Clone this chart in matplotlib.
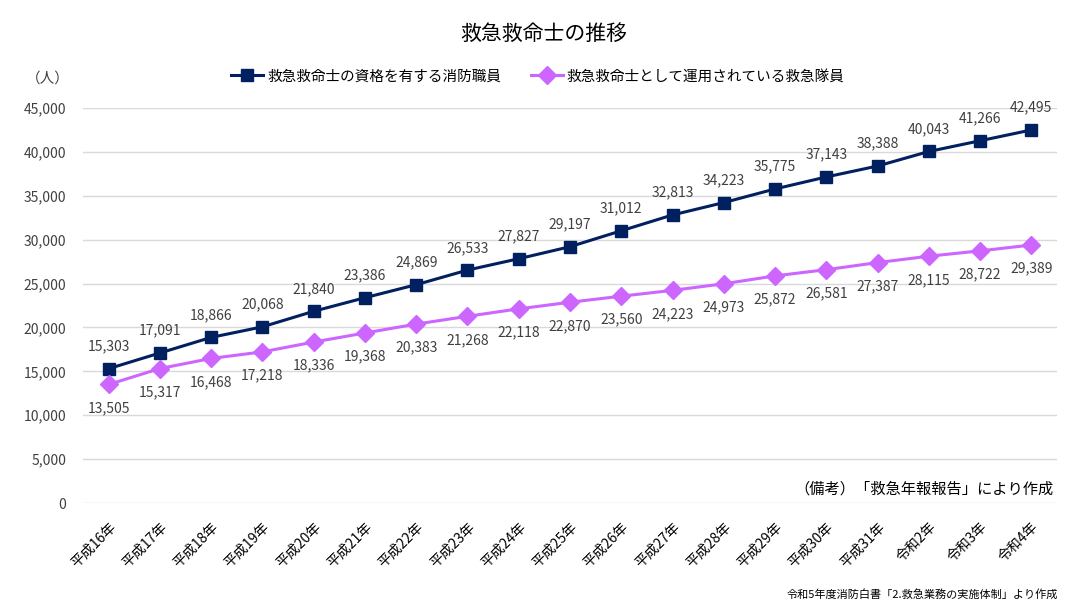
import matplotlib
matplotlib.use("Agg")
import matplotlib.pyplot as plt
from matplotlib.ticker import FuncFormatter

plt.rcParams['font.family'] = ['Noto Sans CJK JP', 'DejaVu Sans']

# years on the x axis
years = ["平成16年", "平成17年", "平成18年", "平成19年", "平成20年", "平成21年", "平成22年",
         "平成23年", "平成24年", "平成25年", "平成26年", "平成27年", "平成28年", "平成29年",
         "平成30年", "平成31年", "令和2年", "令和3年", "令和4年"]
# staff qualified as paramedics
qualified = [15303, 17091, 18866, 20068, 21840, 23386, 24869, 26533, 27827, 29197,
             31012, 32813, 34223, 35775, 37143, 38388, 40043, 41266, 42495]
# paramedics working on ambulance crews
working = [13505, 15317, 16468, 17218, 18336, 19368, 20383, 21268, 22118, 22870,
           23560, 24223, 24973, 25872, 26581, 27387, 28115, 28722, 29389]

NAVY = "#002060"
VIOLET = "#CC66FF"
TEXT = "#404040"

fig = plt.figure(figsize=(10.88, 6.10), dpi=100)
ax = fig.add_axes([0.0763, 0.1754, 0.8952, 0.6476])

x = list(range(len(years)))
ax.plot(x, qualified, color=NAVY, lw=2.2, marker="s", markersize=9,
        label="救急救命士の資格を有する消防職員", zorder=3)
ax.plot(x, working, color=VIOLET, lw=2.2, marker="D", markersize=9.5,
        label="救急救命士として運用されている救急隊員", zorder=3)

for i in x:
    ax.annotate(f"{qualified[i]:,}", (i, qualified[i]), xytext=(0, 16),
                textcoords="offset points", ha="center", va="center",
                fontsize=10, color=TEXT)
    ax.annotate(f"{working[i]:,}", (i, working[i]), xytext=(0, -17),
                textcoords="offset points", ha="center", va="center",
                fontsize=10, color=TEXT)

ax.set_xlim(-0.5, len(years) - 0.5)
ax.set_ylim(0, 45000)
ax.set_yticks(range(0, 45001, 5000))
ax.yaxis.set_major_formatter(FuncFormatter(lambda v, p: f"{int(v):,}"))
ax.set_xticks(x)
ax.set_xticklabels(years, rotation=45, ha="right", rotation_mode="anchor")
ax.tick_params(length=0, labelsize=10, colors=TEXT)
ax.tick_params(axis="x", pad=12)
ax.tick_params(axis="y", pad=12)
for lbl in ax.get_xticklabels():
    lbl.set_color("black")
ax.grid(axis="y", color="#D9D9D9", lw=1)
ax.set_axisbelow(True)
for s in ax.spines.values():
    s.set_visible(False)

fig.text(0.5, 0.945, "救急救命士の推移", ha="center", va="center", fontsize=15)
fig.text(0.044, 0.871, "（人）", ha="center", va="center", fontsize=10.5, color=TEXT)
ax.legend(loc="center", bbox_to_anchor=(0.467, 1.08), ncol=2, frameon=False,
          fontsize=10.5, handlelength=2.2, columnspacing=2.0, handletextpad=0.3)
ax.text(0.997, 0.035, "（備考）「救急年報報告」により作成", transform=ax.transAxes,
        ha="right", va="center", fontsize=11)
fig.text(0.972, 0.026, "令和5年度消防白書「2.救急業務の実施体制」より作成",
         ha="right", va="center", fontsize=8)

fig.savefig("out.png", dpi=100)
